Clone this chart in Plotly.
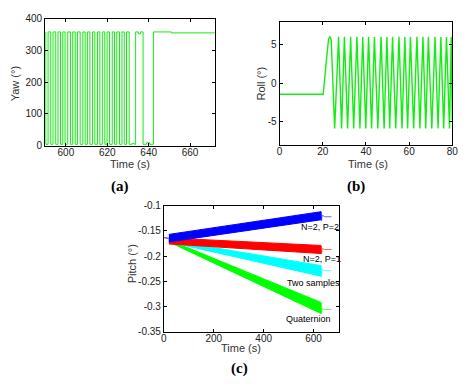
import plotly.graph_objects as go

W, H = 474, 390

# ---------------- Panel (a): Yaw ----------------
yaw_t = [590.0, 590.3, 591.4, 592.7, 593.8, 595.1, 596.2, 597.4, 598.5, 599.6,
         600.9, 602.2, 603.3, 604.5, 605.6, 606.9, 608.2, 609.3, 610.4, 611.6,
         612.9, 614.0, 615.3, 616.4, 617.6, 618.8, 619.9, 621.1, 622.4, 623.5,
         624.6, 625.9, 627.1, 628.2, 629.3, 630.6, 632.0, 633.0, 633.7, 635.0,
         636.0, 637.3, 639.0, 640.5, 642.3, 651.0, 672.0]
yaw_v = [358, 4, 358, 4, 358, 4, 358, 4, 358, 4,
         358, 4, 358, 4, 358, 4, 358, 4, 358, 4,
         358, 4, 358, 4, 358, 4, 358, 4, 358, 4,
         358, 4, 358, 4, 358, 4, 7, 4, 358, 352,
         358, 4, 9, 4, 358, 355, 355]
yaw_ticks = [0, 100, 200, 300, 400]
yaw_xticks = [600, 620, 640, 660]

# ---------------- Panel (b): Roll ----------------
roll_t = [0, 20.2, 21.5, 22.7, 23.3, 23.9, 25.5, 27.3, 28.7, 30.0,
          31.5, 32.9, 34.3, 35.8, 37.2, 38.5, 39.9, 41.2, 42.6, 43.9,
          45.5, 47.0, 48.4, 49.7, 51.0, 52.3, 53.8, 55.3, 56.7, 58.0,
          59.3, 60.6, 62.1, 63.6, 65.0, 66.4, 67.7, 68.9, 70.5, 72.0,
          73.4, 74.7, 76.0, 77.3, 78.7, 79.5, 80.0]
roll_v = [-1.45, -1.45, 2.5, 5.8, 6.0, 5.6, -5.9, 6.0, -5.9, 6.0,
          -5.9, 6.0, -5.9, 6.0, -5.9, 6.0, -5.9, 6.0, -5.9, 6.0,
          -5.9, 6.0, -5.9, 6.0, -5.9, 6.0, -5.9, 6.0, -5.9, 6.0,
          -5.9, 6.0, -5.9, 6.0, -5.9, 6.0, -5.9, 6.0, -5.9, 6.0,
          -5.9, 6.0, -5.9, 6.0, -5.9, 6.0, -4.8]
roll_ticks = [-5, 0, 5]
roll_ticktext = ["-5", "0", "5"]
roll_xticks = [0, 20, 40, 60, 80]

# ---------------- Panel (c): Pitch ----------------
pitch_t = [20, 630]
start_t = [0, 20]
start_v = [-0.163, -0.165]
blue_hi = [-0.157, -0.112]
blue_lo = [-0.172, -0.128]
red_hi = [-0.164, -0.179]
red_lo = [-0.176, -0.195]
cyan_hi = [-0.168, -0.219]
cyan_lo = [-0.172, -0.240]
green_hi = [-0.168, -0.292]
green_lo = [-0.172, -0.314]
tail_t = [630, 632, 635, 645, 672]
blue_tail = [-0.112, -0.130, -0.119, -0.122, -0.122]
red_tail = [-0.180, -0.196, -0.185, -0.187, -0.187]
cyan_tail = [-0.220, -0.240, -0.227, -0.229, -0.229]
green_tail = [-0.293, -0.314, -0.304, -0.306, -0.306]
pitch_labels = ["N=2, P=2", "N=2, P=1", "Two samples", "Quaternion"]
pitch_label_t = [626, 635, 598, 580]
pitch_label_v = [-0.142, -0.206, -0.254, -0.325]
pitch_ticks = [-0.35, -0.3, -0.25, -0.2, -0.15, -0.1]
pitch_ticktext = ["-0.35", "-0.3", "-0.25", "-0.2", "-0.15", "-0.1"]
pitch_xticks = [0, 200, 400, 600]

FONT = "Liberation Sans, Arial, sans-serif"
TICKFONT = dict(family=FONT, size=10, color="#222222")
GREEN = "#11ee11"

fig = go.Figure()

fig.add_trace(go.Scatter(x=yaw_t, y=yaw_v, mode="lines", line=dict(color=GREEN, width=1, shape="hv"),
                         xaxis="x", yaxis="y", showlegend=False))
fig.add_trace(go.Scatter(x=roll_t, y=roll_v, mode="lines", line=dict(color=GREEN, width=1.4),
                         xaxis="x2", yaxis="y2", showlegend=False))

bands = [
    ("#00ff00", green_hi, green_lo, green_tail),
    ("#00ffff", cyan_hi, cyan_lo, cyan_tail),
    ("#ff0000", red_hi, red_lo, red_tail),
    ("#0000ff", blue_hi, blue_lo, blue_tail),
]
for col, hi, lo, tail in bands:
    fig.add_trace(go.Scatter(x=pitch_t + pitch_t[::-1], y=hi + lo[::-1], mode="lines",
                             fill="toself", fillcolor=col, line=dict(color=col, width=1),
                             xaxis="x3", yaxis="y3", showlegend=False))
    fig.add_trace(go.Scatter(x=tail_t, y=tail, mode="lines", line=dict(color=col, width=1),
                             opacity=0.6, xaxis="x3", yaxis="y3", showlegend=False))
fig.add_trace(go.Scatter(x=start_t, y=start_v, mode="lines", line=dict(color="#7755ff", width=1.5),
                         xaxis="x3", yaxis="y3", showlegend=False))


def dom_x(a, b):
    return [a / W, b / W]


def dom_y(top, bottom):
    return [1 - bottom / H, 1 - top / H]


axis_common = dict(showline=True, linecolor="black", linewidth=1, mirror="ticks", ticks="inside",
                   ticklen=3, tickcolor="black", showgrid=False, zeroline=False, tickfont=TICKFONT)
xaxis_extra = dict(ticklabelstandoff=-3)

fig.update_layout(
    width=W, height=H, margin=dict(l=0, r=0, t=0, b=0),
    paper_bgcolor="white", plot_bgcolor="white",
    xaxis=dict(domain=dom_x(43, 216), range=[590, 672], tickvals=yaw_xticks, anchor="y",
               **axis_common, **xaxis_extra),
    yaxis=dict(domain=dom_y(13, 144), range=[0, 400], tickvals=yaw_ticks, anchor="x", **axis_common),
    xaxis2=dict(domain=dom_x(282, 458), range=[0, 80], tickvals=roll_xticks, anchor="y2",
                **axis_common, **xaxis_extra),
    yaxis2=dict(domain=dom_y(16, 143), range=[-8, 8], tickvals=roll_ticks, ticktext=roll_ticktext,
                anchor="x2", **axis_common),
    xaxis3=dict(domain=dom_x(164, 342), range=[0, 700], tickvals=pitch_xticks, anchor="y3",
                **axis_common, **xaxis_extra),
    yaxis3=dict(domain=dom_y(206, 336), range=[-0.35, -0.1], tickvals=pitch_ticks, ticktext=pitch_ticktext,
                anchor="x3", **axis_common),
)

ann = []


def paper_text(text, x, y, size=11, angle=0, family=FONT, color="#333333"):
    ann.append(dict(text=text, x=x / W, y=1 - y / H, xref="paper", yref="paper", showarrow=False,
                    xanchor="center", yanchor="middle", textangle=angle,
                    font=dict(family=family, size=size, color=color)))


SERIF = "Liberation Serif, Times New Roman, serif"
paper_text("Yaw (°)", 12, 80, angle=-90)
paper_text("Time (s)", 129, 163)
paper_text("Roll (°)", 263, 80, angle=-90)
paper_text("Time (s)", 372, 163)
paper_text("Pitch (°)", 131, 266, angle=-90)
paper_text("Time (s)", 243, 353)
paper_text("<b>(a)</b>", 119, 186, size=15, family=SERIF, color="black")
paper_text("<b>(b)</b>", 360, 186, size=15, family=SERIF, color="black")
paper_text("<b>(c)</b>", 241, 374, size=15, family=SERIF, color="black")

for txt, t, v in zip(pitch_labels, pitch_label_t, pitch_label_v):
    ann.append(dict(text=txt, x=t, y=v, xref="x3", yref="y3", showarrow=False, xanchor="center",
                    yanchor="middle", font=dict(family=FONT, size=9, color="black")))

fig.update_layout(annotations=ann)
fig.write_html("out.html", config={"displayModeBar": False},
               post_script="document.body.style.margin='0';")
